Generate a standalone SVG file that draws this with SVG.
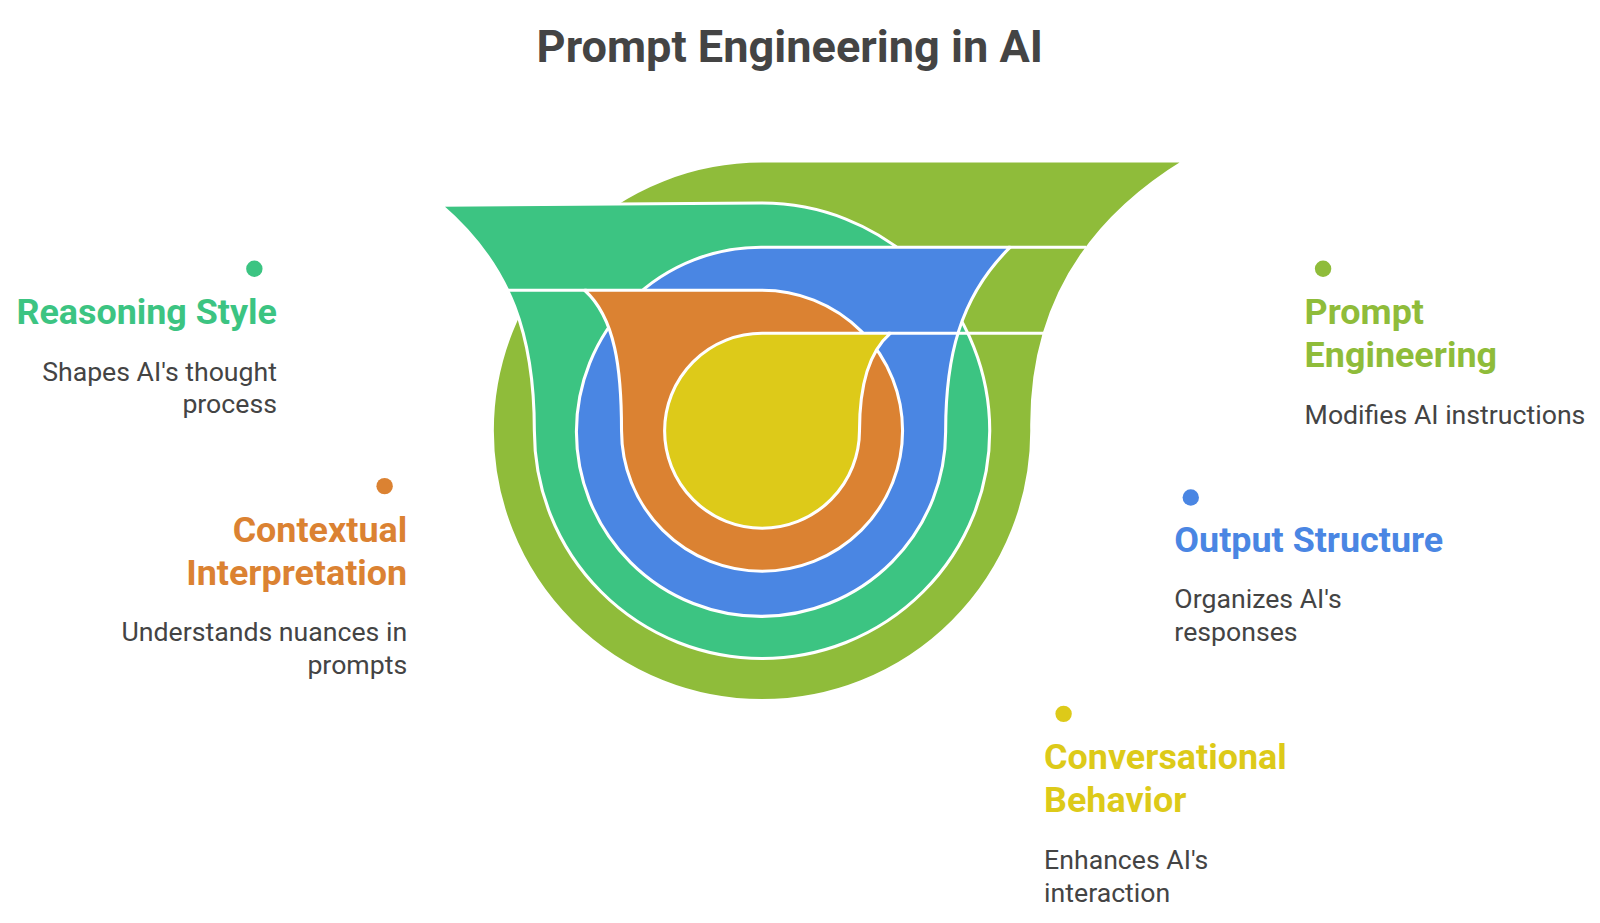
<svg xmlns="http://www.w3.org/2000/svg" width="1600" height="923" viewBox="0 0 1600 923">
<style>
.s{stroke:#fff;stroke-width:3;stroke-linejoin:round}
.t{font-family:Roboto,"Liberation Sans",sans-serif;font-weight:bold;font-size:35px}
.d{font-family:Roboto,"Liberation Sans",sans-serif;font-size:26px;fill:#444}
.r{text-anchor:end}
</style>
<rect width="1600" height="923" fill="#fff"/>
<g transform="scale(1.02564)">
<text x="770" y="60" text-anchor="middle" font-family="Roboto,'Liberation Sans',sans-serif" font-weight="bold" font-size="44" fill="#444">Prompt Engineering in AI</text>
<g id="shapes">
<path id="olive" class="s" fill="#8FBC3A" d="M743,157 L1155,157 C1060,215 1004,300 1006,420 A263 263 0 1 1 743 157 Z"/>
<path id="teal" class="s" fill="#3CC482" d="M743,198 L430,200 C500,260 521,330 521,420 A222 222 0 1 0 743 198 Z"/>
<path id="blue" class="s" fill="#4A86E3" d="M743,241 L985,241 C935,290 922,350 922,420 A180 180 0 1 1 743 241 Z"/>
<path id="orange" class="s" fill="#DB8232" d="M743,283 L570,283 C600,310 606,360 606,420 A137 137 0 1 0 743 283 Z"/>
<path id="yellow" class="s" fill="#DDCA19" d="M743,325 L868,325 C845,345 838,380 838,420 A95 95 0 1 1 743 325 Z"/>
</g>
<g id="connectors" stroke="#fff" stroke-width="3">
<line x1="493" y1="283" x2="572" y2="283"/>
<line x1="983" y1="241" x2="1059" y2="241"/>
<line x1="866" y1="325" x2="1020" y2="325"/>
</g>
<g id="reasoning">
<circle cx="248" cy="262" r="8" fill="#3CC482"/>
<text class="t r" x="270" y="316" fill="#3CC482">Reasoning Style</text>
<text class="d r" x="270" y="371">Shapes AI's thought</text>
<text class="d r" x="270" y="403">process</text>
</g>
<g id="contextual">
<circle cx="375" cy="474" r="8" fill="#DB8232"/>
<text class="t r" x="397" y="528" fill="#DB8232">Contextual</text>
<text class="t r" x="397" y="570" fill="#DB8232">Interpretation</text>
<text class="d r" x="397" y="625">Understands nuances in</text>
<text class="d r" x="397" y="657">prompts</text>
</g>
<g id="prompt">
<circle cx="1290" cy="262" r="8" fill="#8FBC3A"/>
<text class="t" x="1272" y="316" fill="#8FBC3A">Prompt</text>
<text class="t" x="1272" y="358" fill="#8FBC3A">Engineering</text>
<text class="d" x="1272" y="413">Modifies AI instructions</text>
</g>
<g id="output">
<circle cx="1161" cy="485" r="8" fill="#4A86E3"/>
<text class="t" x="1145" y="538" fill="#4A86E3">Output Structure</text>
<text class="d" x="1145" y="593">Organizes AI's</text>
<text class="d" x="1145" y="625">responses</text>
</g>
<g id="conversational">
<circle cx="1037" cy="696" r="8" fill="#DDCA19"/>
<text class="t" x="1018" y="750" fill="#DDCA19">Conversational</text>
<text class="t" x="1018" y="792" fill="#DDCA19">Behavior</text>
<text class="d" x="1018" y="847">Enhances AI's</text>
<text class="d" x="1018" y="879">interaction</text>
</g>
</g>
</svg>
